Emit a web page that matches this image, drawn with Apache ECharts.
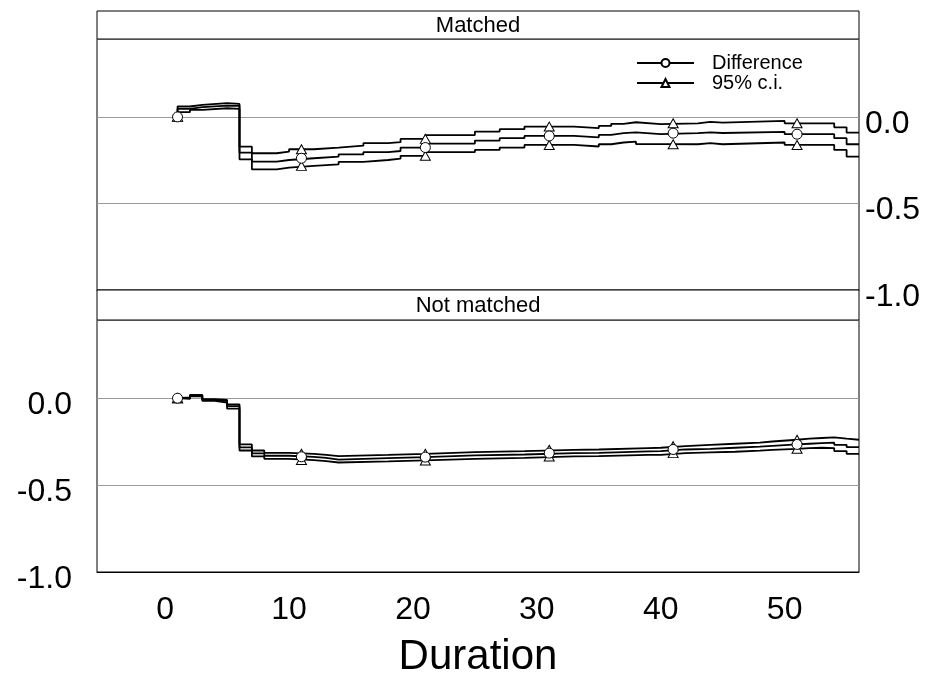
<!DOCTYPE html>
<html><head><meta charset="utf-8">
<script src="https://cdn.jsdelivr.net/npm/echarts@6/dist/echarts.min.js"></script>
<style>html,body{margin:0;padding:0;background:#fff}#c{width:949px;height:680px}</style>
</head><body><div id="c"></div>
<script>
// ---- data ----
const panelTitles = ['Matched', 'Not matched'];
const xTicks = [0, 10, 20, 30, 40, 50];
const yTicks = [-1.0, -0.5, 0.0];
const markerTimes = [1, 11, 21, 31, 41, 51];
const startValue = 0;
const endTime = 56;

// Matched panel: step change times and value after each change
const matchedTimes = [1, 2, 3, 5, 6, 7, 9, 10, 12, 14, 16, 18, 19, 21, 25, 27, 29, 33, 35, 36, 37, 38, 40, 43, 44, 45, 50, 54, 55];
const matchedUpper = [0.060, 0.069, 0.079, 0.075, -0.172, -0.210, -0.200, -0.187, -0.177, -0.166, -0.152, -0.146, -0.127, -0.105, -0.085, -0.071, -0.056, -0.065, -0.052, -0.040, -0.031, -0.042, -0.037, -0.029, -0.033, -0.023, -0.037, -0.060, -0.091];
const matchedDiff  = [0.046, 0.056, 0.065, 0.064, -0.206, -0.258, -0.249, -0.239, -0.229, -0.216, -0.204, -0.197, -0.177, -0.154, -0.137, -0.123, -0.110, -0.118, -0.104, -0.094, -0.089, -0.100, -0.094, -0.089, -0.093, -0.087, -0.100, -0.123, -0.158];
const matchedLower = [0.027, 0.040, 0.050, 0.046, -0.245, -0.303, -0.293, -0.283, -0.274, -0.260, -0.249, -0.241, -0.225, -0.204, -0.191, -0.177, -0.162, -0.171, -0.158, -0.148, -0.143, -0.157, -0.158, -0.152, -0.158, -0.148, -0.162, -0.191, -0.229];

// Not matched panel
const notMatchedTimes = [1, 2, 3, 4, 5, 6, 7, 8, 10, 12, 13, 14, 18, 21, 25, 29, 33, 35, 39, 40, 42, 44, 46, 48, 49, 51, 52, 53, 54, 55];
const notMatchedUpper = [0.004, 0.019, -0.006, -0.010, -0.035, -0.266, -0.301, -0.314, -0.320, -0.326, -0.333, -0.326, -0.320, -0.310, -0.304, -0.297, -0.295, -0.287, -0.285, -0.276, -0.268, -0.262, -0.256, -0.249, -0.239, -0.233, -0.229, -0.225, -0.233, -0.239];
const notMatchedDiff  = [0.000, 0.015, -0.010, -0.017, -0.046, -0.283, -0.318, -0.331, -0.337, -0.343, -0.353, -0.345, -0.339, -0.329, -0.324, -0.316, -0.314, -0.306, -0.304, -0.295, -0.291, -0.285, -0.279, -0.274, -0.266, -0.262, -0.258, -0.256, -0.268, -0.281];
const notMatchedLower = [-0.004, 0.010, -0.015, -0.025, -0.060, -0.301, -0.335, -0.349, -0.356, -0.362, -0.370, -0.364, -0.358, -0.349, -0.343, -0.335, -0.333, -0.326, -0.326, -0.316, -0.312, -0.308, -0.302, -0.297, -0.291, -0.287, -0.285, -0.287, -0.304, -0.320];

// ---- helpers ----
function stepData(times, vals) {
  const d = [[times[0], startValue]];
  times.forEach((t, i) => d.push([t, vals[i]]));
  d.push([endTime, vals[vals.length - 1]]);
  return d;
}
function valueAt(times, vals, t) {
  let v = startValue;
  for (let i = 0; i < times.length; i++) if (times[i] < t) v = vals[i];
  return v;
}
function markers(times, vals) {
  return markerTimes.map(t => [t, valueAt(times, vals, t)]);
}

const FONT = 'Liberation Sans, Arial, sans-serif';
const panels = [
  {times: matchedTimes, diff: matchedDiff, up: matchedUpper, lo: matchedLower},
  {times: notMatchedTimes, diff: notMatchedDiff, up: notMatchedUpper, lo: notMatchedLower}
];

const series = [];
panels.forEach((p, gi) => {
  const lineBase = {
    type: 'line', xAxisIndex: gi, yAxisIndex: gi, step: 'end', showSymbol: false,
    lineStyle: {color: '#000', width: 1.8}, itemStyle: {color: '#fff', borderColor: '#000', borderWidth: 1},
    emphasis: {disabled: true}, silent: true, z: 3
  };
  series.push(Object.assign({}, lineBase, {name: 'Difference', symbol: 'circle', symbolSize: 8, data: stepData(p.times, p.diff)}));
  series.push(Object.assign({}, lineBase, {name: '95% c.i.', symbol: 'triangle', symbolSize: 8, data: stepData(p.times, p.up)}));
  series.push(Object.assign({}, lineBase, {name: '95% c.i.', symbol: 'triangle', symbolSize: 8, data: stepData(p.times, p.lo)}));
  const mk = {
    type: 'scatter', xAxisIndex: gi, yAxisIndex: gi, silent: true, z: 5,
    itemStyle: {color: '#fff', borderColor: '#000', borderWidth: 1, opacity: 1}, emphasis: {disabled: true}
  };
  series.push(Object.assign({}, mk, {name: 'ci-up-m', symbol: 'triangle', symbolSize: [10, 9], data: markers(p.times, p.up)}));
  series.push(Object.assign({}, mk, {name: 'ci-lo-m', symbol: 'triangle', symbolSize: [10, 9], data: markers(p.times, p.lo)}));
  series.push(Object.assign({}, mk, {name: 'diff-m', symbol: 'circle', symbolSize: 10, data: markers(p.times, p.diff)}));
});

const grids = [
  {left: 97, right: 90, top: 39, height: 251},
  {left: 97, right: 90, top: 320, height: 252}
].map(g => Object.assign(g, {show: true, borderColor: '#000', borderWidth: 1, backgroundColor: '#fff'}));

const xAxes = [0, 1].map(gi => ({
  type: 'value', gridIndex: gi, min: -5.5, max: endTime,
  axisLine: {show: true, onZero: false, lineStyle: {color: '#000', width: 1}},
  axisTick: {show: false},
  splitLine: {show: false},
  axisLabel: gi === 1 ? {show: true, customValues: xTicks, fontFamily: FONT, fontSize: 32, color: '#000', margin: 22} : {show: false},
  name: gi === 1 ? 'Duration' : '',
  nameLocation: 'middle', nameGap: 64,
  nameTextStyle: {fontFamily: FONT, fontSize: 42, color: '#000'}
}));

const yAxes = [0, 1].map(gi => ({
  type: 'value', gridIndex: gi, min: -1, max: 0.45, interval: 0.5,
  position: gi === 0 ? 'right' : 'left',
  axisLine: {show: false}, axisTick: {show: false},
  splitLine: {show: true, lineStyle: {color: '#9a9a9a', width: 1}},
  axisLabel: {customValues: yTicks, formatter: v => '{t|' + v.toFixed(1) + '}',
    rich: {t: {fontFamily: FONT, fontSize: 32, color: '#000', padding: [14, 0, 0, 0]}},
    margin: gi === 0 ? 6 : 25}
}));

const stripStyle = {fill: '#fff', stroke: '#000', lineWidth: 1};
const graphic = [
  {type: 'rect', z: 100, shape: {x: 97, y: 11, width: 762, height: 28}, style: stripStyle},
  {type: 'text', z: 101, x: 478, y: 26, style: {text: panelTitles[0], font: '22px ' + FONT, fill: '#000', align: 'center', verticalAlign: 'middle'}},
  {type: 'rect', z: 100, shape: {x: 97, y: 290, width: 762, height: 30}, style: stripStyle},
  {type: 'text', z: 101, x: 478, y: 306, style: {text: panelTitles[1], font: '22px ' + FONT, fill: '#000', align: 'center', verticalAlign: 'middle'}}
];

const chart = echarts.init(document.getElementById('c'), null, {renderer: 'canvas'});
chart.setOption({
  animation: false,
  backgroundColor: '#fff',
  grid: grids, xAxis: xAxes, yAxis: yAxes, series: series, graphic: graphic,
  legend: {
    data: ['Difference', '95% c.i.'], left: 636, top: 53, orient: 'vertical', padding: 0,
    itemWidth: 57, itemHeight: 10, itemGap: 0, selectedMode: false,
    textStyle: {fontFamily: FONT, fontSize: 20, color: '#000', padding: [0, 0, 0, 13]}
  }
});
</script></body></html>
